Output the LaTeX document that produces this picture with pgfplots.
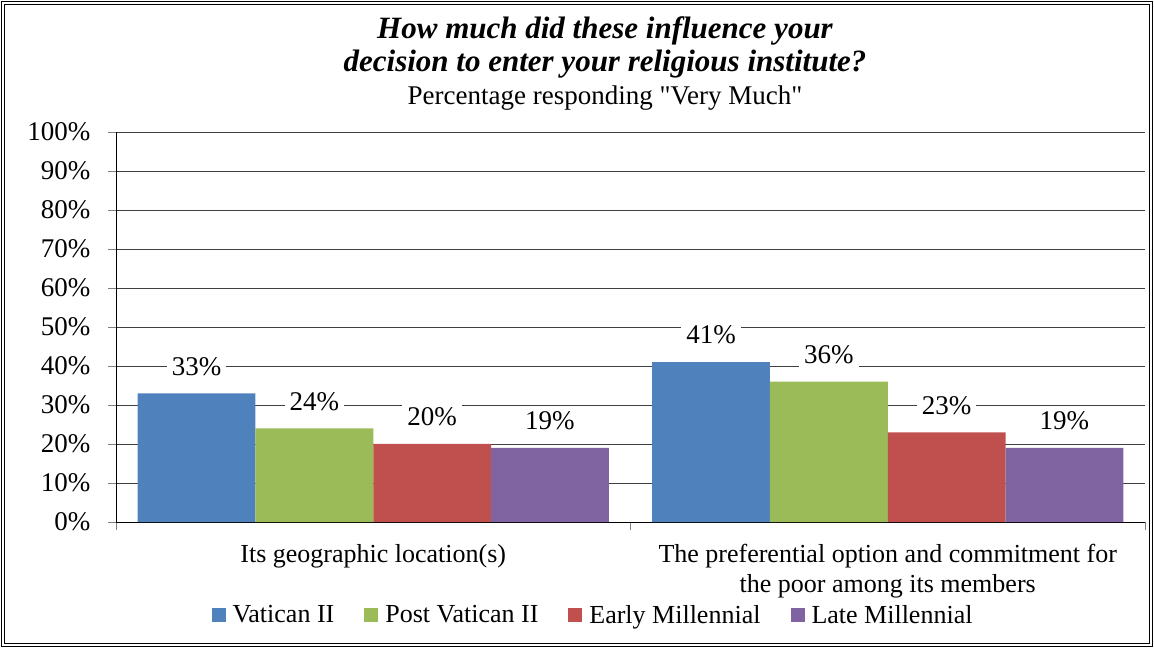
\documentclass[border=0pt]{standalone}
\usepackage{pgfplots}
\pgfplotsset{compat=1.18}
\usepackage{fontspec}
\setmainfont{Liberation Serif}[Ligatures=TeXOff]
\definecolor{vatblue}{RGB}{79,129,189}
\definecolor{postgreen}{RGB}{155,187,89}
\definecolor{earlyred}{RGB}{192,80,77}
\definecolor{latepurple}{RGB}{128,100,162}
\newcommand{\lbl}{\fontsize{27}{32}\selectfont}
\begin{document}
\begin{tikzpicture}[x=1pt,y=1pt]
\path[use as bounding box] (0,0) rectangle (1154,648);
\draw[double, line width=0.8pt, double distance=2pt] (3,3) rectangle (1151,645);
\node[font=\fontsize{31}{36}\selectfont\bfseries\itshape] at (605,617) {How much did these influence your};
\node[font=\fontsize{31}{36}\selectfont\bfseries\itshape] at (605,584) {decision to enter your religious institute?};
\node[font=\lbl] at (605,550) {Percentage responding "Very Much"};
\begin{axis}[
    at={(116pt,126pt)}, anchor=south west,
    scale only axis, width=1029pt, height=390pt,
    /pgf/number format/assume math mode=true,
    ybar=0pt, bar width=0.229,
    xmin=-0.5, xmax=1.5, ymin=0, ymax=100,
    xtick={0,1},
    xticklabels={Its geographic location(s),{The preferential option and commitment for\\the poor among its members}},
    xticklabel style={align=center, font=\fontsize{26}{30}\selectfont, yshift=-11pt},
    major x tick style={draw=none},
    minor xtick={-0.5,0.5,1.5},
    minor x tick style={gray, line width=0.6pt},
    axis x line*=bottom, axis y line*=left,
    axis line style={black, line width=0.8pt, -},
    ytick={0,10,...,100},
    yticklabel={\pgfmathprintnumber{\tick}\%},
    yticklabel style={font=\lbl, xshift=-14pt},
    major y tick style={gray, line width=0.6pt},
    tick align=outside, major tick length=8pt, minor tick length=8pt,
    ymajorgrids, grid style={black!75, line width=0.6pt},
    nodes near coords={\pgfmathprintnumber{\pgfplotspointmeta}\%},
    nodes near coords style={font=\lbl, fill=white, anchor=center, yshift=27pt, inner sep=5pt},
    legend columns=-1,
    legend style={at={(0.4636,-0.238)}, anchor=center, draw=none, font=\fontsize{26}{30}\selectfont,
        /tikz/every even column/.append style={column sep=28pt},
        /tikz/every odd column/.append style={column sep=5pt}},
    legend image code/.code={\fill[#1] (0pt,-7pt) rectangle (14pt,7pt);},
]
\addplot[fill=vatblue, draw=none] coordinates {(0,33) (1,41)};
\addplot[fill=postgreen, draw=none] coordinates {(0,24) (1,36)};
\addplot[fill=earlyred, draw=none] coordinates {(0,20) (1,23)};
\addplot[fill=latepurple, draw=none] coordinates {(0,19) (1,19)};
\legend{Vatican II, Post Vatican II, Early Millennial, Late Millennial}
\end{axis}
\end{tikzpicture}
\end{document}
